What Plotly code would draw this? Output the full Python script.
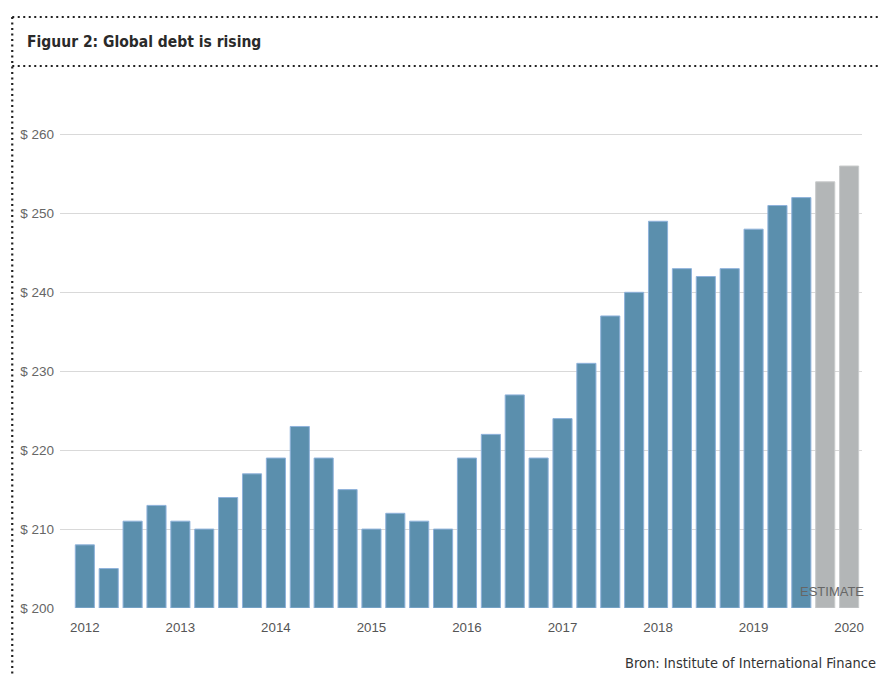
import plotly.graph_objects as go

values = [208, 205, 211, 213, 211, 210, 214, 217, 219, 223, 219, 215, 210, 212, 211, 210,
          219, 222, 227, 219, 224, 231, 237, 240, 249, 243, 242, 243, 248, 251, 252,
          254, 256]
estimate = [False] * 31 + [True, True]
year_labels = ["2012", "2013", "2014", "2015", "2016", "2017", "2018", "2019", "2020"]
y_ticks = [200, 210, 220, 230, 240, 250, 260]

x = list(range(len(values)))
colors = ["#b3b6b7" if e else "#5b8fad" for e in estimate]
lines = ["#c9cbcc" if e else "#8fb2db" for e in estimate]

fig = go.Figure()
fig.add_trace(go.Bar(
    x=x, y=[v - 200 for v in values], base=200,
    marker=dict(color=colors, line=dict(color=lines, width=1)),
    width=0.8, hoverinfo="skip",
))

# page body has an 8px margin on every side: work in page pixels, shift by OFF
OFF = 8
PW, PH = 887, 684
W, H = PW - 2 * OFF, PH - 2 * OFF
L, R = 56 - OFF, (PW - OFF) - 862
T, B = 95 - OFF, (PH - OFF) - 608
pw, ph = W - L - R, H - T - B

def px(xp):
    return (xp - OFF - L) / pw

def py(yp):
    return (H - B - (yp - OFF)) / ph

dot = dict(color="#222222", width=2.2, dash="2px,3.5px")
fig.add_shape(type="line", xref="paper", yref="paper", x0=px(8), x1=px(886), y0=py(17), y1=py(17), line=dot)
fig.add_shape(type="line", xref="paper", yref="paper", x0=px(8), x1=px(886), y0=py(66), y1=py(66), line=dot)
fig.add_shape(type="line", xref="paper", yref="paper", x0=px(8), x1=px(8), y0=py(17), y1=py(684), line=dot)

fig.add_annotation(text="<b>Figuur 2: Global debt is rising</b>", xref="paper", yref="paper",
                   x=px(21), y=py(42), xanchor="left", yanchor="middle", showarrow=False,
                   font=dict(family="DejaVu Sans Condensed", size=15.5, color="#2a2a2a"))
fig.add_annotation(text="Bron: Institute of International Finance", xref="paper", yref="paper",
                   x=px(878), y=py(663), xanchor="right", yanchor="middle", showarrow=False,
                   font=dict(family="DejaVu Sans Condensed", size=14.5, color="#333333"))
fig.add_annotation(text="ESTIMATE", xref="x", yref="paper",
                   x=31.29, y=py(591), xanchor="center", yanchor="middle", showarrow=False,
                   font=dict(family="Liberation Sans", size=13, color="#666666"))

fig.update_layout(
    width=W, height=H,
    margin=dict(l=L, r=R, t=T, b=B),
    paper_bgcolor="white", plot_bgcolor="white",
    showlegend=False, bargap=0.2,
    font=dict(family="Liberation Sans", size=13, color="#666666"),
    xaxis=dict(range=[-1.04, 32.54], tickmode="array", tickvals=list(range(0, 33, 4)),
               ticktext=year_labels, showgrid=False, zeroline=False, showline=False,
               ticks="", ticklabelstandoff=10, tickfont=dict(size=13.3, color="#555555")),
    yaxis=dict(range=[200, 265], tickmode="array", tickvals=y_ticks,
               ticktext=["$ %d" % v for v in y_ticks], showgrid=True, gridcolor="#d9d9d9",
               gridwidth=1, zeroline=False, showline=False, ticks="", ticklabelstandoff=5,
               tickfont=dict(size=13.5, color="#666666")),
)

fig.write_html("out.html", config={"displayModeBar": False})
